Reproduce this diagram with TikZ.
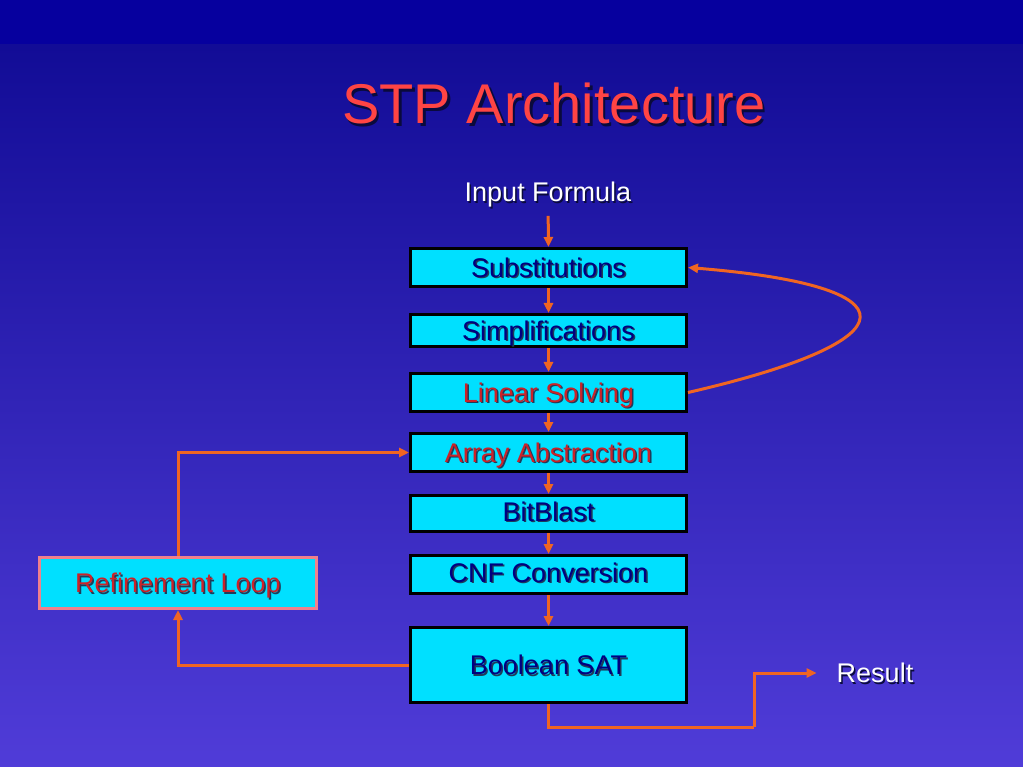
\documentclass[tikz,border=0pt]{standalone}
\usepackage{fontspec}
\setmainfont{Liberation Sans}
\usetikzlibrary{arrows.meta,positioning}
\definecolor{boxcyan}{RGB}{0,224,255}
\definecolor{navytext}{RGB}{0,0,128}
\definecolor{redtext}{RGB}{204,34,40}
\definecolor{titlered}{RGB}{255,68,68}
\definecolor{arrorange}{RGB}{240,101,34}
\definecolor{pinkborder}{RGB}{240,128,140}
\definecolor{shboxcol}{RGB}{30,60,90}
\definecolor{shtitlecol}{RGB}{10,10,60}
\definecolor{bgtop}{RGB}{6,0,158}
\definecolor{bgA}{RGB}{18,12,150}
\definecolor{bgB}{RGB}{58,40,184}
\definecolor{bgC}{RGB}{80,60,216}
\newcommand\shtxt[4]{\rlap{\hspace{#3}\raisebox{-#3}{\color{#2}#4}}{\color{#1}#4}}
\begin{document}
\begin{tikzpicture}[x=1pt,y=-1pt,
  stage/.style={draw=black,line width=3pt,fill=boxcyan,minimum width=276pt,
    inner sep=0pt,text height=19.3pt,text depth=0pt,
    font=\fontsize{27}{32}\selectfont},
  refbox/.style={draw=pinkborder,line width=3pt,fill=boxcyan,minimum width=277pt,
    minimum height=51pt,inner sep=0pt,text height=19.3pt,text depth=0pt,
    font=\fontsize{27}{32}\selectfont},
  label/.style={inner sep=0pt,text height=19.3pt,text depth=0pt,
    font=\fontsize{27}{32}\selectfont},
  arr/.style={draw=arrorange,line width=3pt,-{Triangle[length=10pt,width=9pt]}},
  conn/.style={draw=arrorange,line width=3pt}
]
\useasboundingbox (0,0) rectangle (1023,767);
\fill[bgtop] (0,0) rectangle (1023,45);
\shade[top color=bgA,middle color=bgB,bottom color=bgC] (0,45) rectangle (1023,767);

\node[inner sep=0pt,text height=40pt,text depth=0pt,font=\fontsize{56}{64}\selectfont] (title) at (554,104)
  {\shtxt{titlered}{shtitlecol}{2.5pt}{STP Architecture}};

\node[label] (in) at (548,192) {\shtxt{white}{shtitlecol}{1.5pt}{Input Formula}};

\node[stage,minimum height=38pt] (sub) at (548.5,267.5) {\shtxt{navytext}{shboxcol}{1.5pt}{Substitutions}};
\node[stage,minimum height=32pt] (simp) at (548.5,330.5) {\shtxt{navytext}{shboxcol}{1.5pt}{Simplifications}};
\node[stage,minimum height=38pt] (lin) at (548.5,392.5) {\shtxt{redtext}{shboxcol}{1.5pt}{Linear Solving}};
\node[stage,minimum height=38pt] (arrb) at (548.5,452.5) {\shtxt{redtext}{shboxcol}{1.5pt}{Array Abstraction}};
\node[stage,minimum height=36pt] (bit) at (548.5,513.5) {\raisebox{2pt}{\shtxt{navytext}{shboxcol}{1.5pt}{BitBlast}}};
\node[stage,minimum height=38pt] (cnf) at (548.5,574.5) {\raisebox{2pt}{\shtxt{navytext}{shboxcol}{1.5pt}{CNF Conversion}}};
\node[stage,minimum height=75pt] (sat) at (548.5,665) {\shtxt{navytext}{shboxcol}{1.5pt}{Boolean SAT}};

\node[refbox] (ref) at (178,583) {\shtxt{redtext}{shboxcol}{1.5pt}{Refinement Loop}};

\node[label] (res) at (875,673) {\shtxt{white}{shtitlecol}{1.5pt}{Result}};
\coordinate (turn) at (754,727);

\draw[arr,shorten <=14pt] (in.south) -- (sub.north);
\draw[arr] (sub.south) -- (simp.north);
\draw[arr] (simp.south) -- (lin.north);
\draw[arr] (lin.south) -- (arrb.north);
\draw[arr] (arrb.south) -- (bit.north);
\draw[arr] (bit.south) -- (cnf.north);
\draw[arr] (cnf.south) -- (sat.north);

\draw[arr] (lin.east) .. controls (916,340) and (916,286) .. (sub.east);

\draw[arr] (ref.north) |- (arrb.west);
\draw[arr] (sat.west) -| (ref.south);

\draw[conn] (sat.south) |- (turn);
\draw[arr,shorten >=20pt] (turn) |- (res.west);
\end{tikzpicture}
\end{document}
